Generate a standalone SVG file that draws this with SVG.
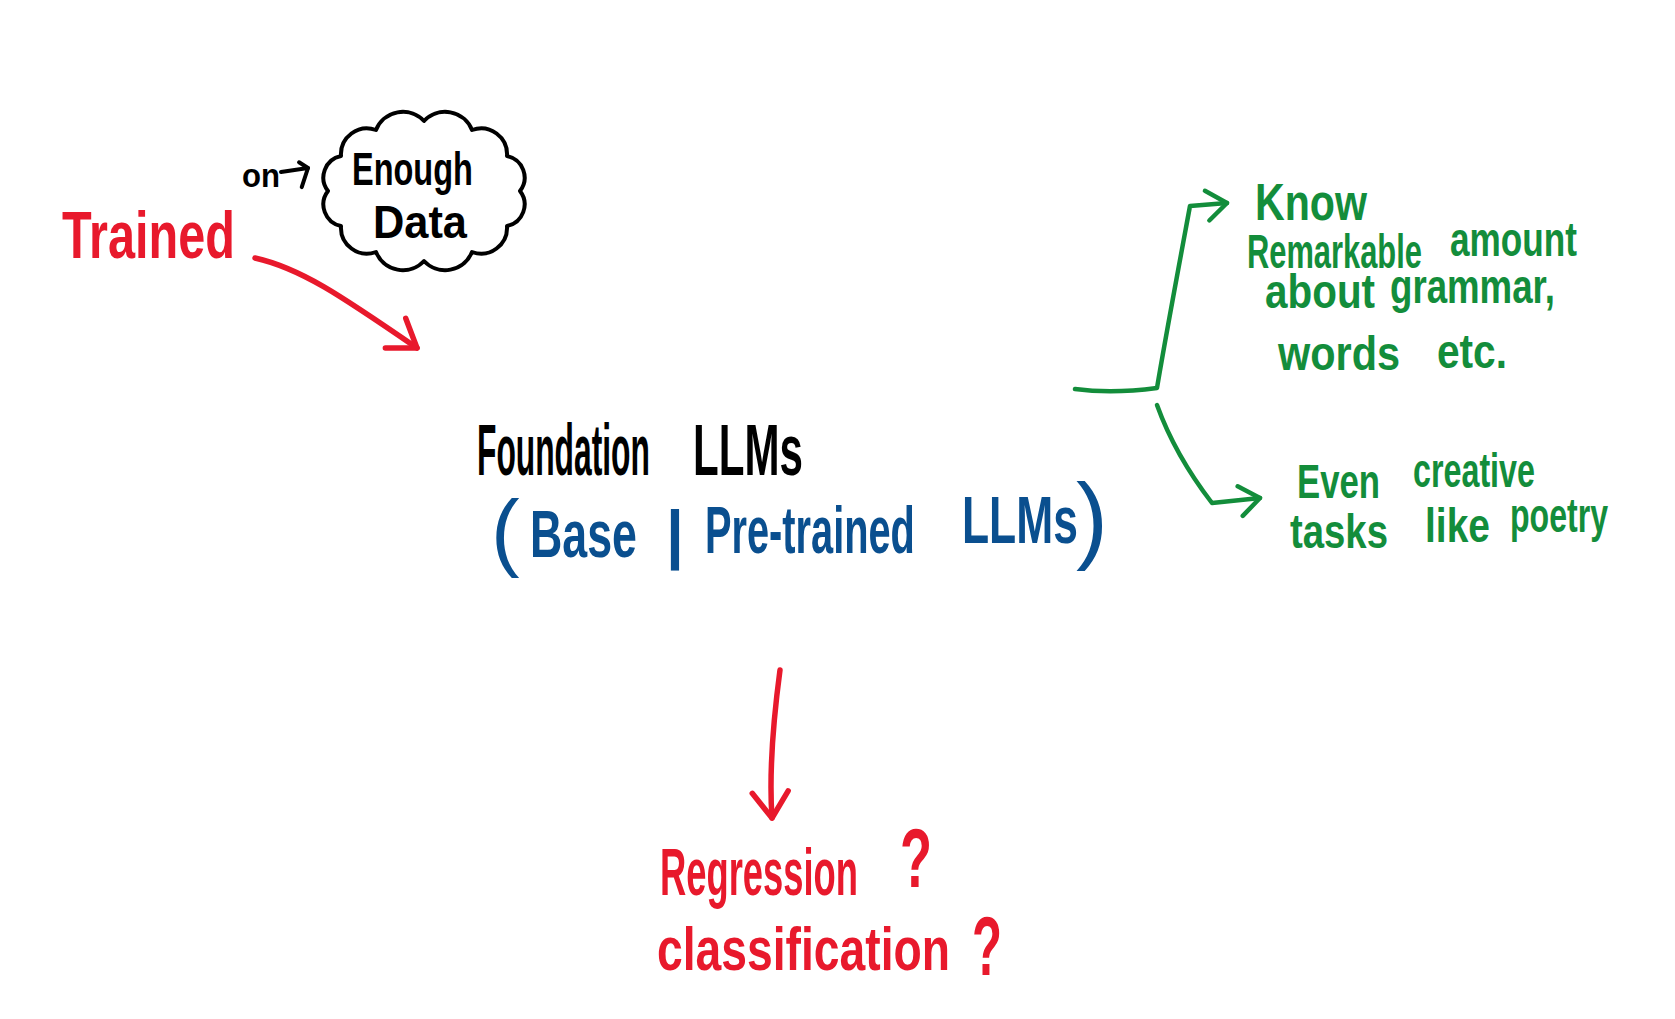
<svg xmlns="http://www.w3.org/2000/svg" width="1675" height="1019" viewBox="0 0 1675 1019">
  <style>
    .hand { font-family: "Liberation Sans", Arial, sans-serif; font-weight: bold; }
    .paren { font-family: "Liberation Sans", Arial, sans-serif; font-weight: normal; }
    .red { fill: #e8192c; }
    .blk { fill: #000000; }
    .blue { fill: #0a4f8f; }
    .green { fill: #138d3b; }
    .ln { fill: none; stroke-linecap: round; stroke-linejoin: round; }
    .ln-red { stroke: #e8192c; stroke-width: 5.5; }
    .ln-green { stroke: #138d3b; stroke-width: 4.5; }
    .ln-blk { stroke: #000000; stroke-width: 4; }
  </style>
  <defs>
    <marker id="ah-red" markerUnits="userSpaceOnUse" markerWidth="40" markerHeight="40" refX="30" refY="20" orient="auto" overflow="visible">
      <path d="M4,2 L30,20 L4,38" fill="none" stroke="#e8192c" stroke-width="5.5" stroke-linecap="round" stroke-linejoin="round"/>
    </marker>
    <marker id="ah-green" markerUnits="userSpaceOnUse" markerWidth="40" markerHeight="40" refX="30" refY="20" orient="auto" overflow="visible">
      <path d="M9,6 L30,20 L11,36" fill="none" stroke="#138d3b" stroke-width="4.5" stroke-linecap="round" stroke-linejoin="round"/>
    </marker>
    <marker id="ah-blk" markerUnits="userSpaceOnUse" markerWidth="40" markerHeight="40" refX="30" refY="20" orient="auto" overflow="visible">
      <path d="M22,13 L30,20 L21,38" fill="none" stroke="#000000" stroke-width="4" stroke-linecap="round" stroke-linejoin="round"/>
    </marker>
  </defs>
  <rect width="1675" height="1019" fill="#ffffff"/>

  <g id="trained">
    <text class="hand red" transform="matrix(0.727 0 0 1 62 258)" font-size="66" textLength="238" lengthAdjust="spacingAndGlyphs">Trained</text>
  </g>

  <g id="on-label">
    <text class="hand blk" transform="matrix(0.92 0 0 1 242 187)" font-size="34" textLength="41.3" lengthAdjust="spacingAndGlyphs">on</text>
  </g>

  <g id="enough-data">
    <path class="ln ln-blk" stroke-width="5" d="M520,191 A22,22 0 0 1 507,226 A26,26 0 0 1 472,252 A29,29 0 0 1 424,261 A29,29 0 0 1 376,252 A26,26 0 0 1 341,226 A22,22 0 0 1 328,191 A22,22 0 0 1 341,156 A26,26 0 0 1 376,130 A29,29 0 0 1 424,121 A29,29 0 0 1 472,130 A26,26 0 0 1 507,156 A22,22 0 0 1 520,191 Z"/>
    <text class="hand blk" transform="matrix(0.707 0 0 1 352 185)" font-size="46" textLength="171" lengthAdjust="spacingAndGlyphs">Enough</text>
    <text class="hand blk" transform="matrix(0.94 0 0 1 373 238)" font-size="46" textLength="100" lengthAdjust="spacingAndGlyphs">Data</text>
  </g>

  <g id="foundation">
    <text class="hand blk" transform="matrix(0.441 0 0 1 477 475)" font-size="72" textLength="392" lengthAdjust="spacingAndGlyphs">Foundation</text>
    <text class="hand blk" transform="matrix(0.585 0 0 1 693 475)" font-size="72" textLength="188" lengthAdjust="spacingAndGlyphs">LLMs</text>
  </g>

  <g id="base-pretrained">
    <text class="paren blue" x="491" y="560" font-size="86">(</text>
    <text class="hand blue" transform="matrix(0.677 0 0 1 530 557)" font-size="66" textLength="158" lengthAdjust="spacingAndGlyphs">Base</text>
    <text class="hand blue" x="666" y="556" font-size="64">|</text>
    <text class="hand blue" transform="matrix(0.603 0 0 1 705 553)" font-size="66" textLength="348" lengthAdjust="spacingAndGlyphs">Pre-trained</text>
    <text class="hand blue" transform="matrix(0.674 0 0 1 962 543)" font-size="66" textLength="172" lengthAdjust="spacingAndGlyphs">LLMs</text>
    <text class="paren blue" x="1076" y="551" font-size="96">)</text>
  </g>

  <g id="know">
    <text class="hand green" transform="matrix(0.79 0 0 1 1255 220)" font-size="52" textLength="141.8" lengthAdjust="spacingAndGlyphs">Know</text>
    <text class="hand green" transform="matrix(0.643 0 0 1 1247 268)" font-size="48" textLength="272" lengthAdjust="spacingAndGlyphs">Remarkable</text>
    <text class="hand green" transform="matrix(0.733 0 0 1 1450 256)" font-size="48" textLength="173.3" lengthAdjust="spacingAndGlyphs">amount</text>
    <text class="hand green" transform="matrix(0.84 0 0 1 1265 308)" font-size="48" textLength="131" lengthAdjust="spacingAndGlyphs">about</text>
    <text class="hand green" transform="matrix(0.754 0 0 1 1390 303)" font-size="48" textLength="218.8" lengthAdjust="spacingAndGlyphs">grammar,</text>
    <text class="hand green" transform="matrix(0.863 0 0 1 1278 370)" font-size="48" textLength="141.4" lengthAdjust="spacingAndGlyphs">words</text>
    <text class="hand green" transform="matrix(0.846 0 0 1 1437 368)" font-size="48" textLength="82.7" lengthAdjust="spacingAndGlyphs">etc.</text>
  </g>

  <g id="creative">
    <text class="hand green" transform="matrix(0.723 0 0 1 1297 498)" font-size="48" textLength="114.8" lengthAdjust="spacingAndGlyphs">Even</text>
    <text class="hand green" transform="matrix(0.672 0 0 1 1413 487)" font-size="48" textLength="181.5" lengthAdjust="spacingAndGlyphs">creative</text>
    <text class="hand green" transform="matrix(0.798 0 0 1 1290 548)" font-size="48" textLength="122.8" lengthAdjust="spacingAndGlyphs">tasks</text>
    <text class="hand green" transform="matrix(0.81 0 0 1 1425 542)" font-size="48" textLength="80.2" lengthAdjust="spacingAndGlyphs">like</text>
    <text class="hand green" transform="matrix(0.668 0 0 1 1510 532)" font-size="48" textLength="146.7" lengthAdjust="spacingAndGlyphs">poetry</text>
  </g>

  <g id="regression">
    <text class="hand red" transform="matrix(0.551 0 0 1 660 895)" font-size="66" textLength="359.4" lengthAdjust="spacingAndGlyphs">Regression</text>
    <text class="hand red" transform="matrix(0.627 0 0 1 900 887)" font-size="84" textLength="51" lengthAdjust="spacingAndGlyphs">?</text>
    <text class="hand red" transform="matrix(0.746 0 0 1 657 970)" font-size="62" textLength="392.8" lengthAdjust="spacingAndGlyphs">classification</text>
    <text class="hand red" transform="matrix(0.588 0 0 1 972 975)" font-size="84" textLength="51" lengthAdjust="spacingAndGlyphs">?</text>
  </g>

  <g id="connectors">
    <path class="ln ln-red" d="M255,258 C300,268 340,295 417,348" marker-end="url(#ah-red)"/>
    <path class="ln ln-blk" d="M281,172 L308,168" marker-end="url(#ah-blk)"/>
    <path class="ln ln-green" d="M1075,389 Q1112,394 1157,388 C1165,340 1180,260 1190,206 L1227,203" marker-end="url(#ah-green)"/>
    <path class="ln ln-green" d="M1157,405 Q1175,455 1212,503 L1260,498" marker-end="url(#ah-green)"/>
    <path class="ln ln-red" d="M780,670 Q768,760 772,818" marker-end="url(#ah-red)"/>
  </g>
</svg>
